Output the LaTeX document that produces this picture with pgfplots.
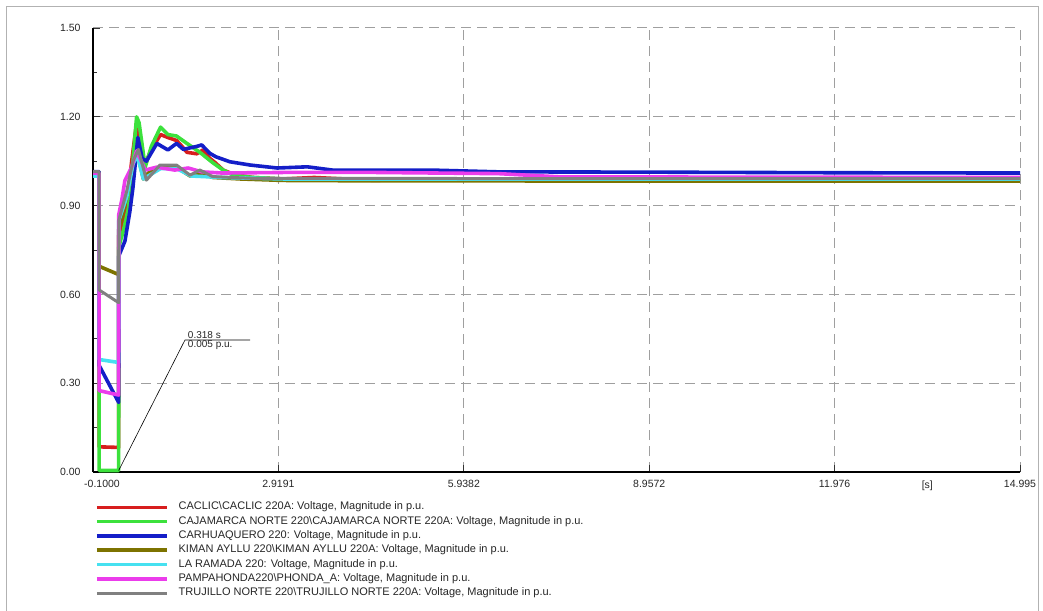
\documentclass[border=0pt]{standalone}
\usepackage{pgfplots}
\pgfplotsset{compat=1.18}
\usepackage{fontspec}
\setmainfont{Liberation Sans}
\definecolor{cRed}{RGB}{215,30,30}
\definecolor{cGreen}{RGB}{60,225,60}
\definecolor{cBlue}{RGB}{20,30,200}
\definecolor{cOlive}{RGB}{125,115,0}
\definecolor{cCyan}{RGB}{70,225,240}
\definecolor{cMag}{RGB}{235,60,235}
\definecolor{cGray}{RGB}{128,128,128}
\begin{document}
\begin{tikzpicture}[x=1pt,y=1pt]
\useasboundingbox (0,0) rectangle (1043,610);
\draw[gray!60, line width=1pt] (6,-5) -- (6,603) -- (1038,603) -- (1038,-5);
\begin{axis}[
  at={(93pt,138pt)}, anchor=south west,
  scale only axis, width=927pt, height=444pt,
  xmin=-0.1, xmax=14.995, ymin=0, ymax=1.5,
  axis x line=bottom, axis y line=left,
  axis line style={-, black, line width=1.4pt},
  xtick={-0.1,2.9191,5.9382,8.9572,11.976,14.995},
  xticklabels={\hspace*{18pt}-0.1000,2.9191,5.9382,8.9572,11.976,14.995},
  ytick={0,0.3,0.6,0.9,1.2,1.5},
  yticklabels={0.00,0.30,0.60,0.90,1.20,1.50},
  minor x tick num=1, minor y tick num=1,
  tick align=inside, major tick length=7pt, minor tick length=4pt,
  tick style={black!80, line width=0.8pt},
  grid=major,
  major grid style={gray!75, line width=1pt, dash pattern=on 10pt off 6pt},
  x tick label style={font=\fontsize{10.5}{12}\selectfont, text=black!85, yshift=-5pt},
  y tick label style={font=\fontsize{10.5}{12}\selectfont, text=black!85, xshift=-9pt},
  legend style={at={(axis description cs:0.002,-0.063)}, anchor=north west,
    draw=none, fill=none, font=\fontsize{11}{12}\selectfont, text=black!85,
    row sep=0pt, inner sep=0pt,
    nodes={inner ysep=2.2pt, inner xsep=4pt, text height=7.6pt, text depth=2.3pt},
    /tikz/every odd column/.append style={column sep=6pt}},
  legend cell align=left,
  legend image code/.code={\draw[#1] (0pt,0pt) -- (70pt,0pt);},
  every axis plot/.append style={line width=3.6pt, line join=round, mark=none},
]
\addplot[cRed] coordinates {(-0.1,1.0)(0,1.0)(0,0.085)(0.318,0.083)(0.32,0.80)(0.45,0.90)(0.53,1.05)(0.61,1.18)(0.70,1.06)(0.75,1.04)(0.85,1.09)(1.0,1.14)(1.12,1.13)(1.26,1.12)(1.35,1.10)(1.43,1.08)(1.59,1.075)(1.69,1.088)(1.80,1.06)(1.89,1.045)(2.02,1.02)(2.2,1.005)(2.5,0.995)(3.0,0.99)(3.5,0.995)(4.0,0.99)(4.5,0.985)(5.0,0.99)(6.0,0.99)(8,0.99)(15,0.99)};
\addlegendentry{CACLIC\textbackslash CACLIC 220A: Voltage, Magnitude in p.u.}
\addplot[cGreen] coordinates {(-0.1,1.0)(0,1.0)(0,0.005)(0.318,0.005)(0.32,0.76)(0.40,0.82)(0.475,0.89)(0.55,1.05)(0.61,1.20)(0.65,1.18)(0.75,1.03)(0.85,1.10)(1.0,1.165)(1.12,1.14)(1.26,1.135)(1.43,1.11)(1.64,1.08)(1.85,1.045)(2.02,1.02)(2.18,1.003)(2.5,0.995)(3,0.99)(4,0.99)(6,0.99)(15,0.99)};
\addlegendentry{CAJAMARCA NORTE 220\textbackslash CAJAMARCA NORTE 220A: Voltage, Magnitude in p.u.}
\addplot[cBlue] coordinates {(-0.1,1.015)(0,1.015)(0,0.36)(0.318,0.235)(0.32,0.73)(0.42,0.78)(0.5,0.88)(0.55,0.96)(0.63,1.13)(0.70,1.06)(0.77,1.05)(0.94,1.11)(1.12,1.088)(1.26,1.11)(1.37,1.09)(1.59,1.10)(1.67,1.105)(1.80,1.077)(1.9,1.065)(2.13,1.048)(2.46,1.037)(2.9,1.027)(3.39,1.031)(3.8,1.02)(4.6,1.02)(5.4,1.02)(6.5,1.014)(9,1.013)(12,1.011)(15,1.01)};
\addlegendentry{CARHUAQUERO 220: Voltage, Magnitude in p.u.}
\addplot[cOlive] coordinates {(-0.1,1.0)(0,1.0)(0,0.695)(0.318,0.667)(0.32,0.82)(0.45,0.93)(0.55,1.04)(0.62,1.08)(0.72,0.99)(0.80,1.01)(0.99,1.03)(1.26,1.03)(1.48,1.0)(1.64,1.01)(1.85,0.995)(2.3,0.99)(3,0.985)(4,0.984)(8,0.983)(15,0.983)};
\addlegendentry{KIMAN AYLLU 220\textbackslash KIMAN AYLLU 220A: Voltage, Magnitude in p.u.}
\addplot[cCyan] coordinates {(-0.1,1.0)(0,1.0)(0,0.38)(0.318,0.37)(0.32,0.85)(0.45,0.93)(0.55,1.04)(0.62,1.07)(0.72,0.99)(0.8,1.0)(1.0,1.025)(1.26,1.025)(1.5,1.0)(2,0.995)(3,0.99)(15,0.99)};
\addlegendentry{LA RAMADA 220: Voltage, Magnitude in p.u.}
\addplot[cMag] coordinates {(-0.1,1.01)(0,1.01)(0,0.275)(0.318,0.26)(0.32,0.87)(0.37,0.92)(0.42,0.985)(0.53,1.03)(0.61,1.085)(0.75,1.02)(0.94,1.03)(1.23,1.02)(1.45,1.027)(1.67,1.014)(2,1.01)(3,1.012)(4.5,1.012)(6.5,1.008)(7.5,0.997)(15,0.995)};
\addlegendentry{PAMPAHONDA220\textbackslash PHONDA\_A: Voltage, Magnitude in p.u.}
\addplot[cGray, line width=3pt] coordinates {(-0.1,1.015)(0,1.015)(0,0.615)(0.318,0.572)(0.32,0.85)(0.45,0.95)(0.55,1.05)(0.64,1.09)(0.77,0.986)(0.99,1.037)(1.26,1.037)(1.48,1.003)(1.64,1.02)(1.85,0.998)(2.5,0.992)(4,0.992)(8,0.991)(15,0.991)};
\addlegendentry{TRUJILLO NORTE 220\textbackslash TRUJILLO NORTE 220A: Voltage, Magnitude in p.u.}
\draw[black, line width=0.6pt] (axis cs:0.318,0.005) -- (axis cs:1.398,0.446) -- (axis cs:2.457,0.446);
\node[anchor=south west, font=\fontsize{10}{11}\selectfont, inner sep=0.8pt, text=black!85] at (axis cs:1.43,0.446) {0.318 s};
\node[anchor=north west, font=\fontsize{10}{11}\selectfont, inner sep=0.8pt, text=black!85] at (axis cs:1.43,0.446) {0.005 p.u.};
\end{axis}
\node[anchor=north, font=\fontsize{10.5}{12}\selectfont, text=black!85, yshift=-5pt] at (927.3, 138) {[s]};
\end{tikzpicture}
\end{document}
